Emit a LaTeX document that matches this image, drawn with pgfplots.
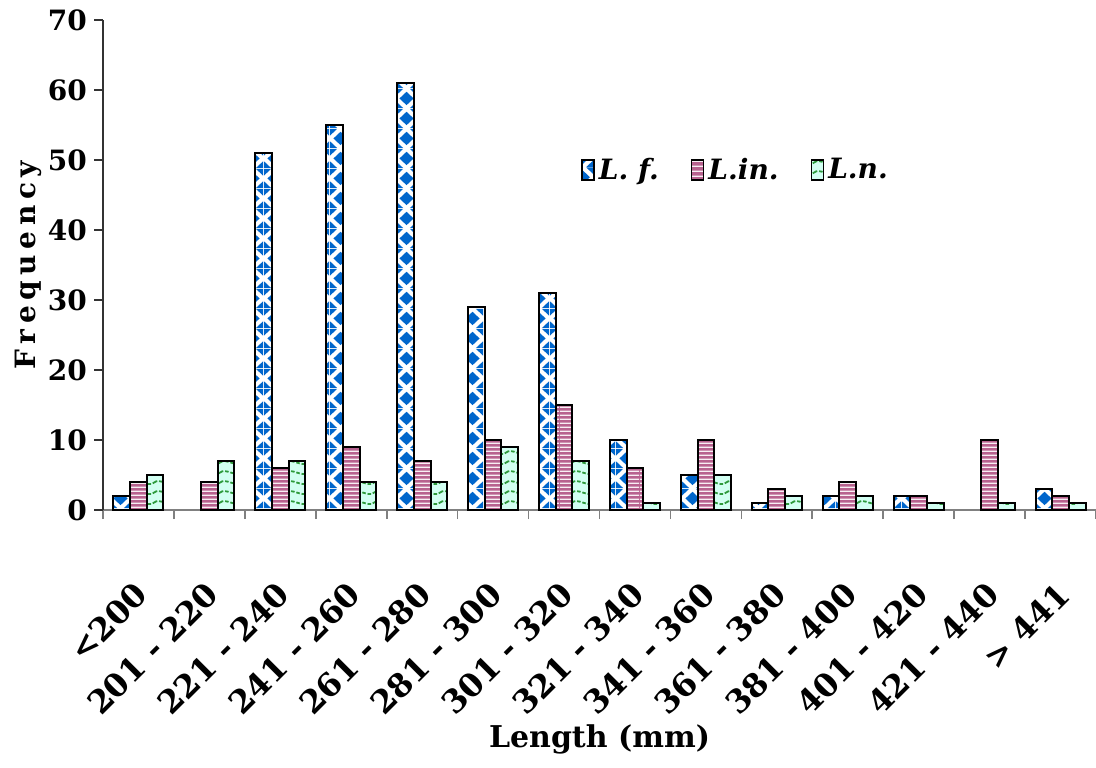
\documentclass[border=0pt]{standalone}
\usepackage{fontspec}
\setmainfont{DejaVu Serif}
\newfontfamily\spacedfont{DejaVu Serif}[LetterSpace=20]
\usepackage{pgfplots}
\pgfplotsset{compat=1.18}
\usetikzlibrary{patterns}
\definecolor{lfblue}{HTML}{0066CC}
\definecolor{linpink}{HTML}{B8628F}
\definecolor{lnfill}{HTML}{D2FFF2}
\definecolor{lngreen}{HTML}{2E9A3C}
\pgfdeclarepatternformonly{lfdiamonds}{\pgfpointorigin}{\pgfpoint{11pt}{10pt}}{\pgfpoint{11pt}{10pt}}{%
 \pgfpathmoveto{\pgfpoint{5.5pt}{1.5pt}}\pgfpathlineto{\pgfpoint{9.2pt}{5pt}}\pgfpathlineto{\pgfpoint{5.5pt}{8.5pt}}\pgfpathlineto{\pgfpoint{1.8pt}{5pt}}\pgfpathclose
 \pgfpathmoveto{\pgfpointorigin}\pgfpathlineto{\pgfpoint{3.7pt}{0pt}}\pgfpathlineto{\pgfpoint{0pt}{3.5pt}}\pgfpathclose
 \pgfpathmoveto{\pgfpoint{11pt}{0pt}}\pgfpathlineto{\pgfpoint{7.3pt}{0pt}}\pgfpathlineto{\pgfpoint{11pt}{3.5pt}}\pgfpathclose
 \pgfpathmoveto{\pgfpoint{0pt}{10pt}}\pgfpathlineto{\pgfpoint{3.7pt}{10pt}}\pgfpathlineto{\pgfpoint{0pt}{6.5pt}}\pgfpathclose
 \pgfpathmoveto{\pgfpoint{11pt}{10pt}}\pgfpathlineto{\pgfpoint{7.3pt}{10pt}}\pgfpathlineto{\pgfpoint{11pt}{6.5pt}}\pgfpathclose
 \pgfusepath{fill}}
\pgfdeclarepatternformonly{hstripes}{\pgfpointorigin}{\pgfpoint{40pt}{2.2pt}}{\pgfpoint{40pt}{2.2pt}}{%
 \pgfpathrectangle{\pgfpointorigin}{\pgfpoint{40pt}{0.8pt}}\pgfusepath{fill}}
\pgfdeclarepatternformonly{waves}{\pgfpoint{-1pt}{-1pt}}{\pgfpoint{12pt}{6pt}}{\pgfpoint{11pt}{5pt}}{%
 \pgfsetlinewidth{0.9pt}\pgfsetdash{{1.8pt}{0.9pt}}{0pt}
 \pgfpathmoveto{\pgfpoint{0pt}{2.2pt}}\pgfpathcurveto{\pgfpoint{2.75pt}{4.8pt}}{\pgfpoint{8.25pt}{-0.4pt}}{\pgfpoint{11pt}{2.2pt}}
 \pgfusepath{stroke}}
\begin{document}
\begin{tikzpicture}
\useasboundingbox (0,0) rectangle (548pt,383.5pt);
\begin{axis}[
  at={(51.5pt,128.5pt)}, anchor=south west,
  scale only axis, width=496.5pt, height=245pt,
  xmin=-0.5, xmax=13.5, ymin=0, ymax=70,
  ytick={0,10,...,70},
  xtick={-0.5,0.5,...,13.5}, xticklabels={},
  extra x ticks={0,...,13},
  extra x tick labels={<200,201 - 220,221 - 240,241 - 260,261 - 280,281 - 300,301 - 320,321 - 340,341 - 360,361 - 380,381 - 400,401 - 420,421 - 440,> 441},
  extra x tick style={major tick length=0pt, tick label style={xshift=4pt, yshift=-37pt, rotate=45, anchor=east, font=\bfseries\fontsize{16}{16}\selectfont}},
  axis x line=bottom, axis y line=left,
  x axis line style={-, gray, line width=0.8pt},
  y axis line style={-, black!80, line width=0.8pt},
  tick align=outside, major tick length=4.5pt,
  x tick style={gray, line width=0.8pt},
  y tick style={black!80, line width=0.8pt},
  /pgf/number format/assume math mode=true,
  yticklabel style={font=\bfseries\fontsize{14}{14}\selectfont},
  ylabel={\spacedfont\bfseries Frequency},
  ylabel style={at={(axis description cs:-0.0755,0.5)}, anchor=center, font=\fontsize{14}{14}\selectfont},
  xlabel={\bfseries Length (mm)},
  xlabel style={at={(axis description cs:0.5,-0.469)}, anchor=center, font=\fontsize{15}{15}\selectfont},
  ybar=0pt, bar width=0.235,
  legend style={draw=none, fill=none, at={(axis description cs:0.638,0.694)}, anchor=center,
    legend columns=3, font=\bfseries\itshape\fontsize{14}{14}\selectfont,
    /tikz/every even column/.append style={column sep=14pt}},
  legend image code/.code={\draw[#1, line width=0.8pt] (0pt,-5pt) rectangle (6pt,5pt);},
]
\addplot[draw=black, line width=1pt, fill=white, postaction={pattern=lfdiamonds, pattern color=lfblue}]
 coordinates {(0,2)(2,51)(3,55)(4,61)(5,29)(6,31)(7,10)(8,5)(9,1)(10,2)(11,2)(13,3)};
\addplot[draw=black, line width=1pt, fill=linpink, postaction={pattern=hstripes, pattern color=white!90!linpink}]
 coordinates {(0,4)(1,4)(2,6)(3,9)(4,7)(5,10)(6,15)(7,6)(8,10)(9,3)(10,4)(11,2)(12,10)(13,2)};
\addplot[draw=black, line width=1pt, fill=lnfill, postaction={pattern=waves, pattern color=lngreen}]
 coordinates {(0,5)(1,7)(2,7)(3,4)(4,4)(5,9)(6,7)(7,1)(8,5)(9,2)(10,2)(11,1)(12,1)(13,1)};
\legend{L. f.,L.in.,L.n.}
\end{axis}
\end{tikzpicture}
\end{document}
